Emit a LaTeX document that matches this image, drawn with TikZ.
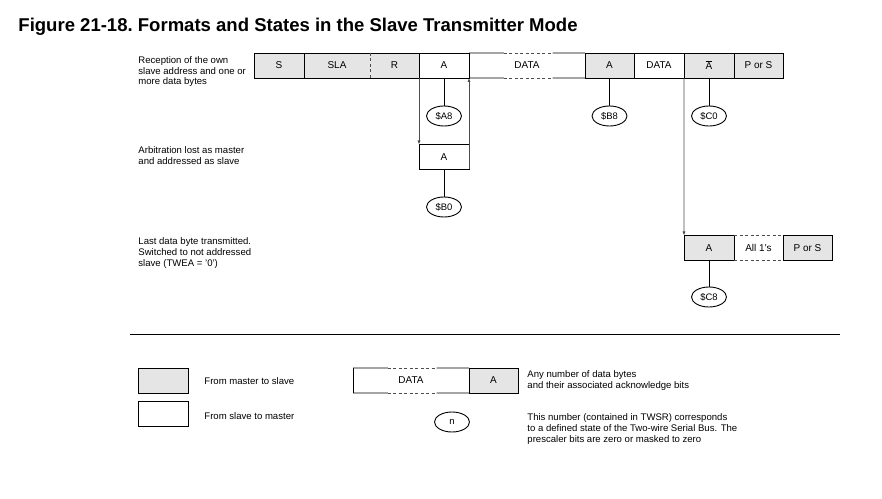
\documentclass[tikz,border=0pt]{standalone}
\usepackage{fontspec}
\setmainfont{Liberation Sans}
\usepackage{tikz}
\usetikzlibrary{shapes.geometric,arrows.meta,calc}

\begin{document}
\begin{tikzpicture}[x=1bp, y=-1bp,
  fld/.style={rectangle, minimum height=25bp, inner sep=0pt, outer sep=0pt, font=\fontsize{10}{12}\selectfont},
  ms/.style={fld, draw, fill=gray!20},
  sm/.style={fld, draw, fill=white},
  st/.style={draw, ellipse, minimum width=35bp, minimum height=20bp, inner sep=0pt, font=\fontsize{9.5}{11}\selectfont},
  arr/.style={-{Latex[length=4bp,width=3.2bp]}, black!70},
  dsh/.style={dash pattern=on 3bp off 2.5bp, black!70},
  lbl/.style={align=left, anchor=north west, inner sep=0pt, font=\fontsize{9.6}{10.7}\selectfont},
  line width=0.9bp
]
\useasboundingbox (0,0) rectangle (882,499);

\node[anchor=base west, inner sep=0pt, font=\fontsize{18.6}{20}\selectfont\bfseries] at (18,31.5) (title) {Figure 21-18.\ Formats and States in the Slave Transmitter Mode};

% row 1
\node[lbl] at (138,56) (txt1) {Reception of the own\\slave address and one or\\more data bytes};
\node[ms, minimum width=50bp] at (279,65.5) (S) {S};
\node[fld, fill=gray!20, minimum width=66bp] at (337,65.5) (SLA) {SLA};
\node[fld, fill=gray!20, minimum width=49bp] at (394.5,65.5) (R) {R};
\draw (SLA.north west) rectangle (R.south east);
\draw[dsh] (SLA.north east) -- (SLA.south east);
\node[sm, minimum width=50bp] at (444,65.5) (A1) {A};
\node[fld, fill=white, minimum width=116bp] at (527,65.5) (D1) {DATA};
\node[ms, minimum width=49bp] at (609.5,65.5) (A2) {A};
\node[sm, minimum width=50bp] at (659,65.5) (D2) {DATA};
\node[ms, minimum width=50bp] at (709,65.5) (NA) {$\overline{\mbox{A}}$};
\node[ms, minimum width=49bp] at (758.5,65.5) (PS1) {P or S};
\draw (D1.north west) -- (D1.south west);

\node[st] at (444,116) (sA8) {\$A8};
\node[st] at (609.5,116) (sB8) {\$B8};
\node[st] at (709,116) (sC0) {\$C0};

% row 2
\node[lbl] at (138,146.5) (txt2) {Arbitration lost as master\\and addressed as slave};
\node[sm, minimum width=50bp] at (444,157) (A3) {A};
\node[st] at (444,207) (sB0) {\$B0};

% row 3
\node[lbl] at (138,237.5) (txt3) {Last data byte transmitted.\\Switched to not addressed\\slave (TWEA = '0')};
\node[ms, minimum width=50bp] at (709,248) (A4) {A};
\node[fld, fill=white, minimum width=49bp] at (758.5,248) (ones) {All 1's};
\node[ms, minimum width=49bp] at (807.5,248) (PS2) {P or S};
\draw (ones.north west) -- (ones.south west);
\draw[dsh] (ones.north west) -- (ones.north east);
\draw[dsh] (ones.south west) -- (ones.south east);
\node[st] at (709,297) (sC8) {\$C8};

% connectors
\draw[arr] (A1.south west) -- (A3.north west);
\draw[arr] (A3.south east) -- (A1.south east);
\draw[arr] (D2.south east) -- (A4.north west);
\draw (A1.south) -- (sA8.north);
\draw (A2.south) -- (sB8.north);
\draw (NA.south) -- (sC0.north);
\draw (A3.south) -- (sB0.north);
\draw (A4.south) -- (sC8.north);

\draw (130,334) -- (840,334);

% legend
\node[ms, minimum width=50bp] at (163,380.5) (keyM) {};
\node[sm, minimum width=50bp] at (163,413.5) (keyS) {};
\node[anchor=base west, inner sep=0pt, font=\fontsize{9.6}{10.7}\selectfont] at (204,384.5) (txtM) {From master to slave};
\node[anchor=base west, inner sep=0pt, font=\fontsize{9.6}{10.7}\selectfont] at (204,419.5) (txtS) {From slave to master};
\node[fld, fill=white, minimum width=116bp] at (411,380.5) (LD) {DATA};
\node[ms, minimum width=49bp] at (493.5,380.5) (LA) {A};
\draw (LD.north west) -- (LD.south west);
\node[lbl] at (527,370) (txtD) {Any number of data bytes\\and their associated acknowledge bits};
\node[st] at (452,422) (sn) {n};
\node[lbl] at (527,413.3) (txtn) {This number (contained in TWSR) corresponds\\to a defined state of the Two-wire Serial Bus. The\\prescaler bits are zero or masked to zero};

% partly dashed DATA edges
\foreach \n/\a/\b in {D1/north west/north east, D1/south west/south east, LD/north west/north east, LD/south west/south east}{
  \draw (\n.\a) -- ($(\n.\a)!.3!(\n.\b)$);
  \draw[dsh] ($(\n.\a)!.3!(\n.\b)$) -- ($(\n.\a)!.72!(\n.\b)$);
  \draw ($(\n.\a)!.72!(\n.\b)$) -- (\n.\b);
}

\end{tikzpicture}
\end{document}
